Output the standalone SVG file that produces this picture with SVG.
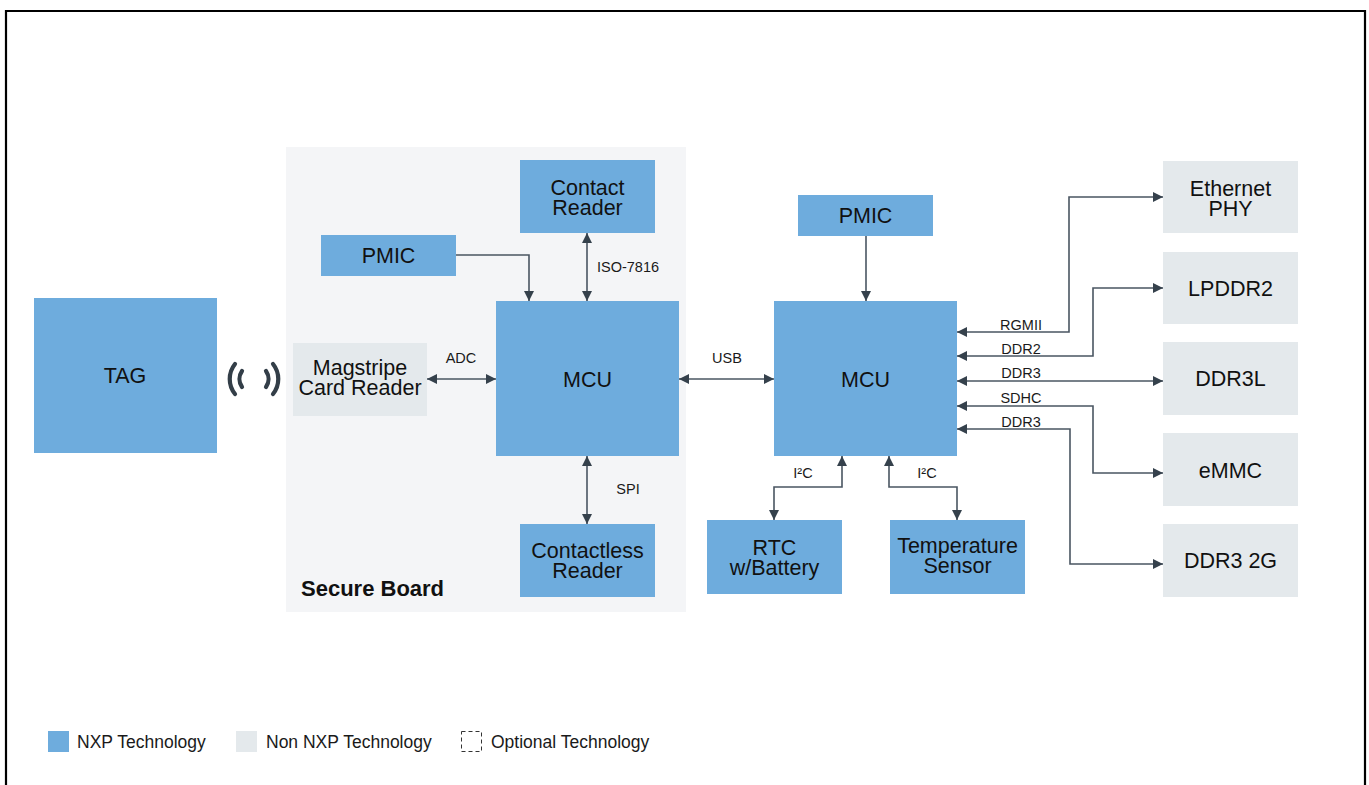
<svg xmlns="http://www.w3.org/2000/svg" width="1369" height="785" viewBox="0 0 1369 785">
<defs>
<marker id="ah" viewBox="0 0 10 10" markerUnits="userSpaceOnUse" markerWidth="10" markerHeight="10" refX="10" refY="5" orient="auto-start-reverse">
<path d="M0,0 L10,5 L0,10 z" fill="#35414c"/>
</marker>
<style>
.nxp{fill:#6eacdd}
.non{fill:#e4e9ec}
.t{font-family:"Liberation Sans",Arial,sans-serif;font-size:21.5px;fill:#111;text-anchor:middle}
.s{font-family:"Liberation Sans",Arial,sans-serif;font-size:14.5px;fill:#1a1a1a;text-anchor:middle}
.l{font-family:"Liberation Sans",Arial,sans-serif;font-size:17.5px;fill:#1a1a1a}
.c{fill:none;stroke:#4a5662;stroke-width:1.6;marker-end:url(#ah)}
.c2{fill:none;stroke:#4a5662;stroke-width:1.6;marker-end:url(#ah);marker-start:url(#ah)}
.w{fill:none;stroke:#333e48;stroke-width:4.2;stroke-linecap:round}
</style>
</defs>
<rect width="1369" height="785" fill="#fff"/>
<path d="M6,785 V11 H1365 V785" fill="none" stroke="#000" stroke-width="2.2"/>

<g id="secure-board">
<rect x="286" y="147" width="400" height="465" fill="#f4f5f7"/>
<text x="301" y="596" font-family="Liberation Sans,Arial,sans-serif" font-size="22" font-weight="bold" fill="#111">Secure Board</text>
</g>

<g id="tag"><rect class="nxp" x="34" y="298" width="183" height="155"/><text class="t" x="125" y="383">TAG</text></g>

<g id="wireless">
<path class="w" d="M235,364 A24,24 0 0 0 235,394"/>
<path class="w" d="M242,371 A14,14 0 0 0 242,387"/>
<path class="w" d="M266,371 A14,14 0 0 1 266,387"/>
<path class="w" d="M273,364 A24,24 0 0 1 273,394"/>
</g>

<g id="contact-reader"><rect class="nxp" x="520" y="160" width="135" height="73"/><text class="t" x="587.5" y="195">Contact</text><text class="t" x="587.5" y="215">Reader</text></g>
<g id="pmic-left"><rect class="nxp" x="321" y="235" width="135" height="41"/><text class="t" x="388.5" y="263">PMIC</text></g>
<g id="magstripe"><rect class="non" x="293" y="343" width="134" height="73"/><text class="t" x="360" y="375">Magstripe</text><text class="t" x="360" y="395">Card Reader</text></g>
<g id="mcu-left"><rect class="nxp" x="496" y="301" width="183" height="155"/><text class="t" x="587.5" y="387">MCU</text></g>
<g id="contactless-reader"><rect class="nxp" x="520" y="524" width="135" height="73"/><text class="t" x="587.5" y="558">Contactless</text><text class="t" x="587.5" y="578">Reader</text></g>

<g id="pmic-right"><rect class="nxp" x="798" y="195" width="135" height="41"/><text class="t" x="865.5" y="223">PMIC</text></g>
<g id="mcu-right"><rect class="nxp" x="774" y="301" width="183" height="155"/><text class="t" x="865.5" y="387">MCU</text></g>
<g id="rtc"><rect class="nxp" x="707" y="520" width="135" height="74"/><text class="t" x="774.5" y="555">RTC</text><text class="t" x="774.5" y="575">w/Battery</text></g>
<g id="temp-sensor"><rect class="nxp" x="890" y="520" width="135" height="74"/><text class="t" x="957.5" y="553">Temperature</text><text class="t" x="957.5" y="573">Sensor</text></g>

<g id="ethernet-phy"><rect class="non" x="1163" y="161" width="135" height="72"/><text class="t" x="1230.5" y="196">Ethernet</text><text class="t" x="1230.5" y="216">PHY</text></g>
<g id="lpddr2"><rect class="non" x="1163" y="252" width="135" height="72"/><text class="t" x="1230.5" y="296">LPDDR2</text></g>
<g id="ddr3l"><rect class="non" x="1163" y="342" width="135" height="73"/><text class="t" x="1230.5" y="386">DDR3L</text></g>
<g id="emmc"><rect class="non" x="1163" y="433" width="135" height="73"/><text class="t" x="1230.5" y="478">eMMC</text></g>
<g id="ddr3-2g"><rect class="non" x="1163" y="524" width="135" height="73"/><text class="t" x="1230.5" y="568">DDR3 2G</text></g>

<g id="connectors">
<path class="c" d="M456,255 H529 V301"/>
<path class="c2" d="M587,233 V301"/>
<text class="s" x="628" y="272">ISO-7816</text>
<path class="c2" d="M587,456 V524"/>
<text class="s" x="628" y="494">SPI</text>
<path class="c2" d="M427,379 H496"/>
<text class="s" x="461" y="363">ADC</text>
<path class="c2" d="M679,379 H774"/>
<text class="s" x="727" y="363">USB</text>
<path class="c" d="M866,236 V301"/>
<path class="c2" d="M842,456 V487 H774 V520"/>
<text class="s" x="803" y="478">I²C</text>
<path class="c2" d="M889,456 V487 H957 V520"/>
<text class="s" x="927" y="478">I²C</text>
<path class="c2" d="M957,332 H1069 V197 H1163"/>
<text class="s" x="1021" y="330">RGMII</text>
<path class="c2" d="M957,356 H1093 V288 H1163"/>
<text class="s" x="1021" y="354">DDR2</text>
<path class="c2" d="M957,381 H1163"/>
<text class="s" x="1021" y="378">DDR3</text>
<path class="c2" d="M957,406 H1093 V473 H1163"/>
<text class="s" x="1021" y="403">SDHC</text>
<path class="c2" d="M957,429 H1070 V564 H1163"/>
<text class="s" x="1021" y="427">DDR3</text>
</g>

<g id="legend">
<rect class="nxp" x="48" y="731" width="21" height="21"/>
<text class="l" x="77" y="748">NXP Technology</text>
<rect class="non" x="236" y="731" width="21" height="21"/>
<text class="l" x="266" y="748">Non NXP Technology</text>
<rect x="461.5" y="731.5" width="20" height="20" fill="none" stroke="#333" stroke-width="1" stroke-dasharray="4,3"/>
<text class="l" x="491" y="748">Optional Technology</text>
</g>
</svg>
